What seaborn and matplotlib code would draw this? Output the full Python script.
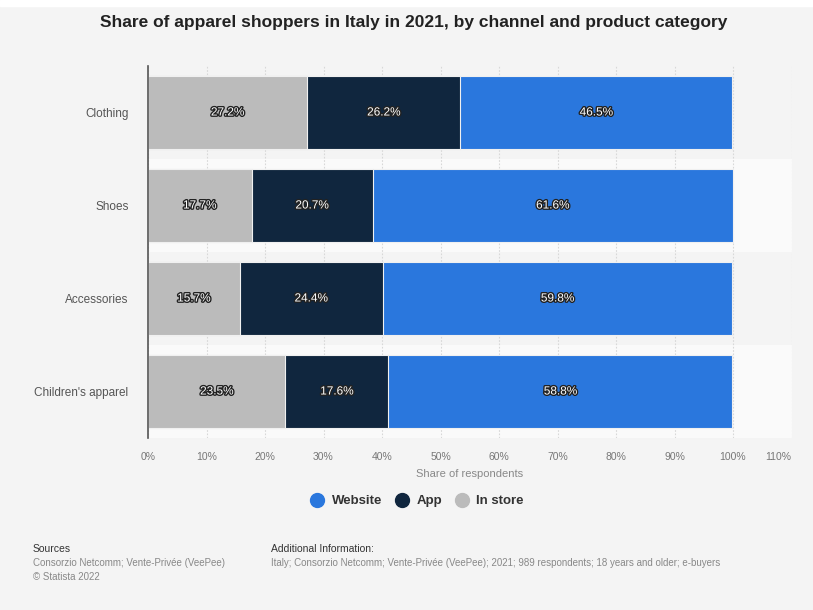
import matplotlib
matplotlib.use("Agg")
import matplotlib.pyplot as plt
import matplotlib.patheffects as pe
from matplotlib.lines import Line2D
import numpy as np
import pandas as pd
import seaborn as sns

categories = ["Clothing", "Shoes", "Accessories", "Children's apparel"]
in_store = [27.2, 17.7, 15.7, 23.5]
app = [26.2, 20.7, 24.4, 17.6]
website = [46.5, 61.6, 59.8, 58.8]

series_names = ["Website", "App", "In store"]
colors = {"Website": "#2a77dd", "App": "#10263e", "In store": "#bbbbbb"}
x_ticks = list(range(0, 111, 10))

sns.set_theme(style="white")
plt.rcParams["font.family"] = ["Liberation Sans", "DejaVu Sans"]

bg = "#f4f4f4"
fig = plt.figure(figsize=(8.13, 6.10), dpi=100, facecolor=bg)
ax = fig.add_axes([148 / 813, 1 - 438 / 610, (791.5 - 148) / 813, (438 - 66) / 610])
ax.set_facecolor(bg)

# lighter bands behind alternate rows
for i in range(len(categories)):
    if i % 2 == 1:
        ax.axhspan(i - 0.5, i + 0.5, color="#fafafa", zorder=0, lw=0)

df = pd.DataFrame({"category": categories, "In store": in_store,
                   "App": app, "Website": website})
df["cum_instore"] = df["In store"]
df["cum_app"] = df["cum_instore"] + df["App"]
df["cum_web"] = df["cum_app"] + df["Website"]

# stacked bars drawn back to front from cumulative totals
for col, name in [("cum_web", "Website"), ("cum_app", "App"), ("cum_instore", "In store")]:
    sns.barplot(data=df, x=col, y="category", order=categories, orient="h",
                color=colors[name], width=0.775, saturation=1,
                edgecolor="#f0f0f0", linewidth=0.8, ax=ax, zorder=3)

# segment value labels
for i, row in df.iterrows():
    lefts = [0, row["cum_instore"], row["cum_app"]]
    vals = [row["In store"], row["App"], row["Website"]]
    for left, v in zip(lefts, vals):
        ax.text(left + v / 2, i, f"{v:.1f}%", ha="center", va="center",
                color="white", fontsize=8.5, zorder=5,
                path_effects=[pe.withStroke(linewidth=2, foreground="#222222")])

ax.set_xlim(0, 110)
ax.set_ylim(len(categories) - 0.5, -0.5)
ax.set_xticks(x_ticks)
ax.set_xticklabels([f"{t}%" for t in x_ticks], color="#777777", fontsize=7.5)
ax.get_xticklabels()[-1].set_ha("right")
ax.tick_params(axis="x", length=0, pad=10)
ax.tick_params(axis="y", length=0, pad=14, labelsize=8.5, labelcolor="#555555")
ax.xaxis.grid(True, color="#d8d8d8", linestyle=(0, (1.5, 1.5)), linewidth=0.8, zorder=1)
ax.set_axisbelow(True)
ax.set_ylabel("")
ax.set_xlabel("Share of respondents", color="#888888", fontsize=8, labelpad=5)
for s in ["top", "right", "bottom"]:
    ax.spines[s].set_visible(False)
ax.spines["left"].set_color("#555555")
ax.spines["left"].set_linewidth(1.2)
ax.spines["left"].set_zorder(6)

# white strip along the top edge
fig.patches.append(plt.Rectangle((0, 1 - 6 / 610), 1, 6 / 610, transform=fig.transFigure,
                                 color="white", zorder=0))

fig.text(414 / 813, 1 - 22 / 610, "Share of apparel shoppers in Italy in 2021, by channel and product category",
         ha="center", va="center", fontsize=12.5, fontweight="bold", color="#222222")

handles = [Line2D([0], [0], marker="o", linestyle="", markersize=10,
                  markerfacecolor=colors[n], markeredgecolor=colors[n]) for n in series_names]
fig.legend(handles, series_names, loc="center", bbox_to_anchor=(414 / 813, 1 - 501 / 610),
           ncol=3, frameon=False, handletextpad=0.1, columnspacing=0.5,
           prop={"weight": "bold", "size": 9.5})
for t in fig.legends[0].get_texts():
    t.set_color("#333333")

fig.text(33 / 813, 1 - 549 / 610, "Sources", fontsize=7.5, color="#333333", va="center")
fig.text(33 / 813, 1 - 563 / 610, "Consorzio Netcomm; Vente-Privée (VeePee)", fontsize=7,
         color="#888888", va="center")
fig.text(33 / 813, 1 - 577 / 610, "© Statista 2022", fontsize=7, color="#888888", va="center")
fig.text(271 / 813, 1 - 549 / 610, "Additional Information:", fontsize=7.5, color="#333333", va="center")
fig.text(271 / 813, 1 - 563 / 610,
         "Italy; Consorzio Netcomm; Vente-Privée (VeePee); 2021; 989 respondents; 18 years and older; e-buyers",
         fontsize=7, color="#888888", va="center")

fig.savefig("out.png", dpi=100, facecolor=bg)
